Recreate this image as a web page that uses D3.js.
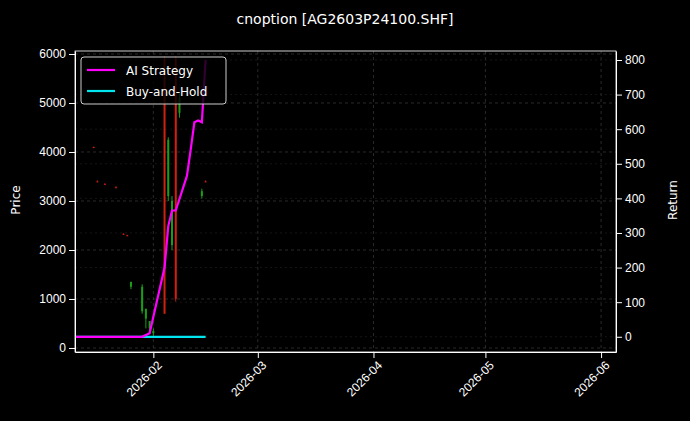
<!DOCTYPE html><html><head><script src="https://cdn.jsdelivr.net/npm/d3@7"></script>
<style>body{margin:0;background:#000}</style></head><body><script>
const candleDates=["2026-01-16","2026-01-17","2026-01-19","2026-01-22","2026-01-24","2026-01-25","2026-01-26","2026-01-29","2026-01-30","2026-01-31","2026-02-01","2026-02-04","2026-02-05","2026-02-06","2026-02-07","2026-02-08","2026-02-14","2026-02-15"];
const opens =[4100,3400,3350,3280,2330,2300,1250,750,600,400,300,5900,3100,2100,5900,4800,3100,3400];
const highs =[4110,3420,3360,3300,2340,2310,1350,1300,800,550,400,5950,4300,3100,5950,5200,3250,3420];
const lows  =[4080,3390,3340,3270,2320,2290,1200,700,400,300,250,700,3000,2000,950,4700,3050,3390];
const closes=[4090,3395,3345,3275,2325,2295,1350,1250,800,550,350,700,4250,3000,1000,5100,3200,3395];
const stratDates=["2026-01-11","2026-01-29","2026-01-31","2026-02-04","2026-02-05","2026-02-06","2026-02-07","2026-02-10","2026-02-11","2026-02-12","2026-02-13","2026-02-14","2026-02-15"];
const stratVals=[0,0,10,200,320,365,365,465,540,620,625,620,800];
const bhDates=["2026-01-11","2026-02-15"];
const bhVals=[0,0];
const xTicks=["2026-02-01","2026-03-01","2026-04-01","2026-05-01","2026-06-01"];
const P=d3.timeParse("%Y-%m-%d");
const W=690,H=421,m={l:75,r:616,t:51,b:352};
const svg=d3.select("body").append("svg").attr("width",W).attr("height",H).style("font-family","DejaVu Sans");
svg.append("rect").attr("width",W).attr("height",H).attr("fill","#000");
const x=d3.scaleTime().domain([P("2026-01-11"),P("2026-06-05")]).range([m.l,m.r]);
const y=d3.scaleLinear().domain([-82,6061]).range([m.b,m.t]);
const y2=d3.scaleLinear().domain([-44,826]).range([m.b,m.t]);
const g=svg.append("g");
xTicks.forEach(t=>g.append("line").attr("x1",x(P(t))).attr("x2",x(P(t))).attr("y1",m.t).attr("y2",m.b).attr("stroke","#444").attr("stroke-dasharray","3,3").attr("stroke-width",0.6));
[0,1000,2000,3000,4000,5000,6000].forEach(v=>g.append("line").attr("x1",m.l).attr("x2",m.r).attr("y1",y(v)).attr("y2",y(v)).attr("stroke","#444").attr("stroke-dasharray","3,3").attr("stroke-width",0.6));
[0,100,200,300,400,500,600,700,800].forEach(v=>g.append("line").attr("x1",m.l).attr("x2",m.r).attr("y1",y2(v)).attr("y2",y2(v)).attr("stroke","#2a2a2a").attr("stroke-dasharray","2,3").attr("stroke-width",0.5));
candleDates.forEach((d,i)=>{const up=closes[i]>=opens[i];const c=up?"#1a9e1a":"#d0200f";const cx=x(P(d));
g.append("line").attr("x1",cx).attr("x2",cx).attr("y1",y(highs[i])).attr("y2",y(lows[i])).attr("stroke",c).attr("stroke-width",1);
g.append("rect").attr("x",cx-1).attr("width",2).attr("y",y(Math.max(opens[i],closes[i]))).attr("height",Math.max(1,Math.abs(y(opens[i])-y(closes[i])))).attr("fill",c);});
const ln=d3.line().x(d=>x(P(d[0]))).y(d=>y2(d[1]));
g.append("path").attr("d",ln(bhDates.map((d,i)=>[d,bhVals[i]]))).attr("stroke","#00e5ee").attr("stroke-width",2.2).attr("fill","none");
g.append("path").attr("d",ln(stratDates.map((d,i)=>[d,stratVals[i]]))).attr("stroke","#ff00ff").attr("stroke-width",2.2).attr("fill","none");
const ax=svg.append("g").attr("transform",`translate(0,${m.b})`).call(d3.axisBottom(x).tickValues(xTicks.map(P)).tickFormat(d3.timeFormat("%Y-%m")).tickSizeOuter(0));
ax.selectAll("text").attr("transform","rotate(-45)").style("text-anchor","end").attr("dx","-0.3em").attr("dy","0.6em");
const al=svg.append("g").attr("transform",`translate(${m.l},0)`).call(d3.axisLeft(y).tickValues([0,1000,2000,3000,4000,5000,6000]).tickFormat(d3.format("d")).tickSizeOuter(0));
const ar=svg.append("g").attr("transform",`translate(${m.r},0)`).call(d3.axisRight(y2).tickValues([0,100,200,300,400,500,600,700,800]).tickSizeOuter(0));
[ax,al,ar].forEach(a=>{a.selectAll("text").attr("fill","#fff").style("font-size","12px");a.selectAll("line,path").attr("stroke","#fff");});
svg.append("rect").attr("x",m.l).attr("y",m.t).attr("width",m.r-m.l).attr("height",m.b-m.t).attr("fill","none").attr("stroke","#fff").attr("stroke-width",0.8);
svg.append("text").attr("x",345).attr("y",24).attr("text-anchor","middle").attr("fill","#fff").style("font-size","14px").text("cnoption [AG2603P24100.SHF]");
svg.append("text").attr("transform","translate(20,200) rotate(-90)").attr("text-anchor","middle").attr("fill","#fff").style("font-size","12px").text("Price");
svg.append("text").attr("transform","translate(677,200) rotate(-90)").attr("text-anchor","middle").attr("fill","#fff").style("font-size","12px").text("Return");
const lg=svg.append("g");
lg.append("rect").attr("x",81).attr("y",57).attr("width",145).attr("height",47).attr("rx",3).attr("fill","#000").attr("fill-opacity",0.8).attr("stroke","#ccc");
[["AI Strategy","#ff00ff"],["Buy-and-Hold","#00e5ee"]].forEach((s,i)=>{const yy=70+i*21;
lg.append("line").attr("x1",87).attr("x2",115).attr("y1",yy).attr("y2",yy).attr("stroke",s[1]).attr("stroke-width",2.2);
lg.append("text").attr("x",126).attr("y",yy+4.5).attr("fill","#fff").style("font-size","12px").text(s[0]);});
</script></body></html>
